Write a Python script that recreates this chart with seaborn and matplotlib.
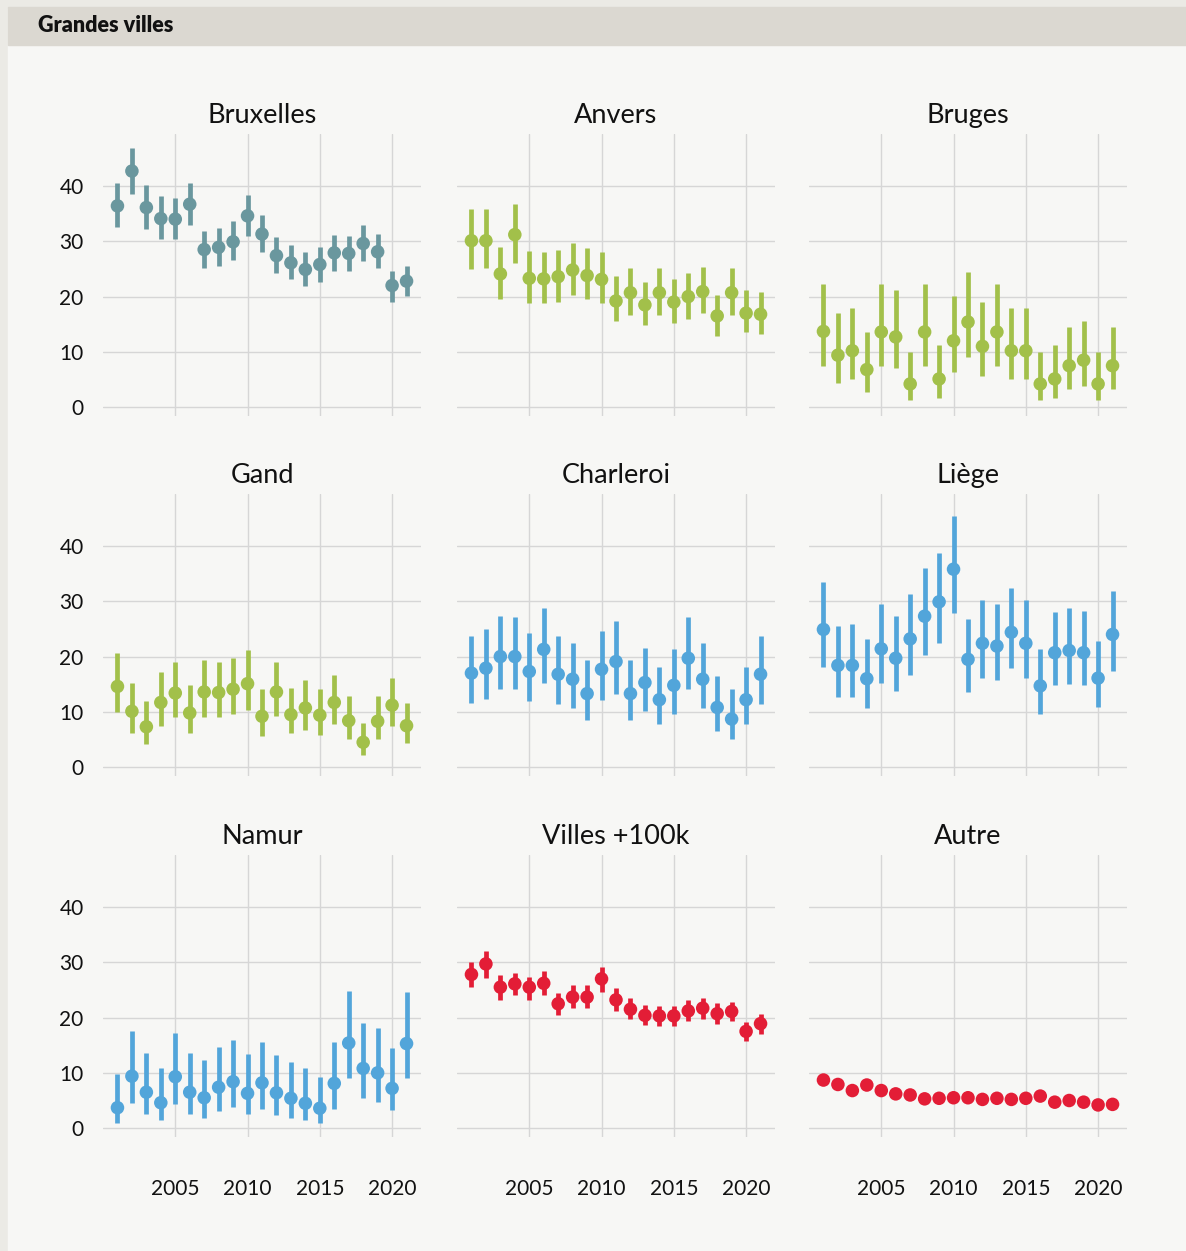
import numpy as np
import pandas as pd
import matplotlib
matplotlib.use("Agg")
import matplotlib.pyplot as plt
from matplotlib.patches import Rectangle
import seaborn as sns

# ---------------- data ----------------
years = list(range(2001, 2022))
cities = ["Bruxelles", "Anvers", "Bruges", "Gand", "Charleroi", "Liège",
          "Namur", "Villes +100k", "Autre"]

bruxelles_val = [36.4, 42.7, 36.1, 34.1, 34.0, 36.7, 28.5, 28.9, 29.9, 34.6, 31.3,
                 27.4, 26.1, 24.9, 25.8, 27.9, 27.8, 29.6, 28.1, 22.0, 22.8]
bruxelles_hi = [40.6, 46.9, 40.1, 38.2, 37.9, 40.6, 31.9, 32.4, 33.6, 38.4, 34.8,
                30.7, 29.3, 28.1, 29.0, 31.2, 31.0, 32.9, 31.4, 24.7, 25.6]
bruxelles_lo = [32.6, 38.5, 32.2, 30.5, 30.5, 32.9, 25.2, 25.6, 26.6, 31.0, 28.1,
                24.3, 23.2, 22.0, 22.7, 24.7, 24.7, 26.4, 25.2, 19.1, 20.1]

anvers_val = [30.1, 30.1, 24.1, 31.2, 23.3, 23.2, 23.6, 24.8, 23.8, 23.1, 19.2,
              20.7, 18.5, 20.7, 19.0, 20.0, 20.9, 16.5, 20.7, 17.0, 16.8]
anvers_hi = [35.8, 35.8, 29.0, 36.7, 28.3, 28.1, 28.5, 29.7, 28.8, 28.1, 23.7,
             25.2, 22.7, 25.2, 23.2, 24.2, 25.4, 20.3, 25.2, 21.1, 20.8]
anvers_lo = [25.0, 25.2, 19.6, 26.1, 18.9, 18.9, 19.1, 20.3, 19.6, 18.9, 15.5,
             16.7, 14.8, 16.7, 15.3, 16.0, 17.0, 12.9, 16.7, 13.6, 13.3]

bruges_val = [13.7, 9.4, 10.2, 6.8, 13.6, 12.7, 4.2, 13.6, 5.1, 12.0, 15.4,
              11.0, 13.6, 10.2, 10.2, 4.2, 5.1, 7.5, 8.5, 4.2, 7.5]
bruges_hi = [22.3, 17.0, 17.9, 13.6, 22.3, 21.1, 10.0, 22.3, 11.2, 20.1, 24.4,
             19.1, 22.3, 17.9, 17.9, 10.0, 11.2, 14.5, 15.5, 10.0, 14.5]
bruges_lo = [7.5, 4.4, 5.1, 2.7, 7.5, 7.1, 1.3, 7.5, 1.7, 6.3, 9.0,
             5.6, 7.5, 5.1, 5.1, 1.3, 1.7, 3.2, 3.9, 1.3, 3.2]

gand_val = [14.6, 10.1, 7.3, 11.7, 13.4, 9.8, 13.6, 13.5, 14.1, 15.1, 9.2,
            13.6, 9.5, 10.7, 9.4, 11.7, 8.4, 4.5, 8.3, 11.2, 7.5]
gand_hi = [20.6, 15.3, 11.9, 17.2, 19.1, 14.8, 19.4, 19.1, 19.8, 21.1, 14.1,
           19.1, 14.3, 15.7, 14.1, 16.7, 12.9, 8.0, 12.9, 16.2, 11.6]
gand_lo = [10.0, 6.2, 4.2, 7.5, 9.0, 6.1, 9.0, 9.0, 9.7, 10.4, 5.6,
           9.2, 6.1, 6.8, 5.9, 7.8, 5.1, 2.2, 5.1, 7.5, 4.4]

charleroi_val = [17.0, 17.9, 20.0, 20.0, 17.3, 21.3, 16.8, 15.9, 13.3, 17.7, 19.1,
                 13.3, 15.3, 12.2, 14.8, 19.7, 15.9, 10.8, 8.7, 12.2, 16.8]
charleroi_hi = [23.7, 24.9, 27.3, 27.1, 24.2, 28.8, 23.7, 22.5, 19.4, 24.7, 26.4,
                19.4, 21.5, 18.2, 21.3, 27.1, 22.5, 16.5, 14.1, 18.2, 23.7]
charleroi_lo = [11.6, 12.4, 14.1, 14.1, 11.9, 15.3, 11.4, 10.7, 8.5, 12.1, 13.3,
                8.5, 10.2, 7.8, 9.7, 14.1, 10.7, 6.6, 5.1, 7.8, 11.4]

liege_val = [24.9, 18.4, 18.4, 16.0, 21.4, 19.7, 23.2, 27.3, 29.9, 35.8, 19.5,
             22.4, 21.9, 24.4, 22.4, 14.7, 20.7, 21.1, 20.7, 16.1, 24.0]
liege_hi = [33.4, 25.6, 25.9, 23.2, 29.5, 27.3, 31.4, 36.0, 38.7, 45.4, 26.8,
            30.2, 29.5, 32.4, 30.2, 21.3, 28.1, 28.8, 28.3, 22.9, 31.9]
liege_lo = [18.2, 12.6, 12.6, 10.7, 15.3, 13.8, 16.7, 20.3, 22.5, 27.8, 13.6,
            16.2, 15.7, 17.9, 16.2, 9.7, 14.8, 15.0, 14.8, 10.9, 17.4]

namur_val = [3.7, 9.4, 6.5, 4.6, 9.3, 6.5, 5.5, 7.4, 8.4, 6.3, 8.2,
             6.4, 5.4, 4.5, 3.6, 8.1, 15.4, 10.8, 10.0, 7.2, 15.3]
namur_hi = [9.8, 17.5, 13.6, 10.9, 17.2, 13.6, 12.3, 14.7, 15.9, 13.4, 15.6,
            13.2, 12.0, 10.8, 9.3, 15.6, 24.8, 19.0, 18.1, 14.5, 24.6]
namur_lo = [0.9, 4.5, 2.6, 1.4, 4.3, 2.6, 1.9, 3.1, 3.8, 2.6, 3.5,
            2.4, 1.9, 1.4, 0.9, 3.5, 9.0, 5.5, 4.8, 3.2, 9.0]

villes100k_val = [27.8, 29.7, 25.5, 26.1, 25.5, 26.2, 22.5, 23.7, 23.7, 27.0, 23.2,
                  21.5, 20.4, 20.3, 20.3, 21.2, 21.7, 20.7, 21.1, 17.5, 18.9]
villes100k_hi = [30.0, 32.1, 27.7, 28.1, 27.4, 28.4, 24.5, 25.9, 25.8, 29.1, 25.3,
                 23.6, 22.3, 22.1, 22.1, 23.1, 23.6, 22.6, 22.9, 19.2, 20.7]
villes100k_lo = [25.5, 27.2, 23.2, 24.0, 23.2, 24.0, 20.5, 21.7, 21.7, 24.7, 21.2,
                 19.8, 18.6, 18.4, 18.4, 19.3, 19.8, 18.9, 19.3, 15.7, 17.1]

autre_val = [8.7, 7.9, 6.8, 7.8, 6.8, 6.2, 6.0, 5.3, 5.4, 5.5, 5.5,
             5.2, 5.4, 5.2, 5.4, 5.8, 4.7, 5.0, 4.7, 4.2, 4.3]
autre_hi = [9.2, 8.4, 7.3, 8.3, 7.3, 6.7, 6.5, 5.8, 5.9, 6.0, 6.0,
            5.7, 5.9, 5.7, 5.9, 6.3, 5.2, 5.5, 5.2, 4.7, 4.8]
autre_lo = [8.2, 7.4, 6.3, 7.3, 6.3, 5.7, 5.5, 4.8, 4.9, 5.0, 5.0,
            4.7, 4.9, 4.7, 4.9, 5.3, 4.2, 4.5, 4.2, 3.7, 3.8]

x_ticks = [2005, 2010, 2015, 2020]
y_ticks = [0, 10, 20, 30, 40]

series = {
    "Bruxelles": (bruxelles_val, bruxelles_lo, bruxelles_hi),
    "Anvers": (anvers_val, anvers_lo, anvers_hi),
    "Bruges": (bruges_val, bruges_lo, bruges_hi),
    "Gand": (gand_val, gand_lo, gand_hi),
    "Charleroi": (charleroi_val, charleroi_lo, charleroi_hi),
    "Liège": (liege_val, liege_lo, liege_hi),
    "Namur": (namur_val, namur_lo, namur_hi),
    "Villes +100k": (villes100k_val, villes100k_lo, villes100k_hi),
    "Autre": (autre_val, autre_lo, autre_hi),
}

rows = []
for c in cities:
    v, lo, hi = series[c]
    for y, a, b, d in zip(years, v, lo, hi):
        rows.append({"ville": c, "annee": y, "val": a, "bas": b, "haut": d})
df = pd.DataFrame(rows)

# ---------------- style ----------------
teal = "#6a979e"
green = "#a2c04a"
blue = "#52a5da"
red = "#e31d36"
palette = {"Bruxelles": teal, "Anvers": green, "Bruges": green, "Gand": green,
           "Charleroi": blue, "Liège": blue, "Namur": blue,
           "Villes +100k": red, "Autre": red}

sns.set_theme(style="whitegrid")
plt.rcParams["font.family"] = ["Lato", "DejaVu Sans"]
plt.rcParams["text.color"] = "#111111"

W, H = 1186, 1251
BG = "#f7f7f5"

g = sns.FacetGrid(df, col="ville", col_wrap=3, col_order=cities,
                  sharex=True, sharey=True, height=3, aspect=1.1)


def draw(data, **kws):
    ax = plt.gca()
    c = palette[data["ville"].iloc[0]]
    ax.vlines(data["annee"], data["bas"], data["haut"], color=c, lw=3.4,
              zorder=3)
    ax.scatter(data["annee"], data["val"], s=95, color=c, edgecolor="none",
               zorder=4)


g.map_dataframe(draw)

fig = g.figure
fig.set_size_inches(W / 100, H / 100)
fig.set_facecolor("#ebeae5")

# background panels
fig.patches.append(Rectangle((8 / W, 0), 1, 1 - 8 / H, transform=fig.transFigure,
                             color=BG, zorder=-10))
fig.patches.append(Rectangle((8 / W, 1 - 45 / H), 1, 38 / H,
                             transform=fig.transFigure, color="#dbd8d1", zorder=-9))
fig.text(38 / W, 1 - 26 / H, "Grandes villes", fontsize=15.5, fontweight="heavy",
         ha="left", va="center", color="#111111")

col_left = [103, 457, 809]
row_top = [134, 494, 855]
ax_w, ax_h = 318, 282

for i, ax in enumerate(g.axes.flat):
    r, c = divmod(i, 3)
    ax.set_position([col_left[c] / W, 1 - (row_top[r] + ax_h) / H,
                     ax_w / W, ax_h / H])
    ax.set_facecolor(BG)
    ax.set_xlim(2000, 2022)
    ax.set_ylim(-1.6, 49.4)
    ax.set_xticks(x_ticks)
    ax.set_yticks(y_ticks)
    ax.grid(True, color="#d6d6d6", lw=1.0)
    ax.set_axisbelow(True)
    for s in ax.spines.values():
        s.set_visible(False)
    ax.tick_params(axis="both", length=0, labelsize=15, colors="#111111")
    ax.tick_params(axis="y", pad=14)
    ax.tick_params(axis="x", pad=30)
    ax.set_title(cities[i], fontsize=19.5, pad=8, color="#111111")
    ax.set_xlabel("")
    ax.set_ylabel("")
    if c != 0:
        ax.tick_params(axis="y", labelleft=False)
    if r != 2:
        ax.tick_params(axis="x", labelbottom=False)

fig.savefig("out.png", dpi=100, facecolor=fig.get_facecolor())
